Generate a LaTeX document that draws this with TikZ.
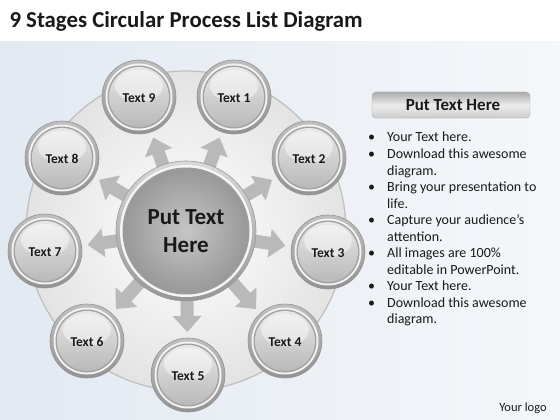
\documentclass[tikz,border=0pt]{standalone}
\usepackage{fontspec}
\setmainfont{Carlito}
\usetikzlibrary{arrows.meta,calc}
\definecolor{bgblue}{RGB}{226,233,241}
\definecolor{txt}{RGB}{25,25,25}
\tikzset{
  blockarrow/.style={line width=13pt, draw=gray!55, -{Triangle[width=28pt,length=16pt]}},
  stagetext/.style={font=\fontsize{13.5}{15}\selectfont\bfseries, text=txt},
}
\begin{document}
\begin{tikzpicture}[x=1pt,y=-1pt]
\useasboundingbox (0,0) rectangle (560,420);
\fill[white] (0,0) rectangle (560,420);
\shade[left color=bgblue, right color=bgblue!35] (0,42) rectangle (560,420);
\node[anchor=west, font=\fontsize{22.8}{26}\selectfont\bfseries, text=txt] (title) at (6,21) {9 Stages Circular Process List Diagram};
% outer disc
\coordinate (c) at (186,231);
\shade[inner color=white, outer color=gray!22] (c) circle (160);
\draw[gray!50, line width=1.2pt] (c) circle (160);
% stage positions
\foreach \n/\x/\y in {1/234/97, 2/309/158, 3/328/252, 4/285/341, 5/188/375, 6/87/341, 7/45/251, 8/62/158, 9/139/97}
  \coordinate (p\n) at (\x,\y);
% arrows
\foreach \n in {1,...,9}
  \draw[blockarrow] ($(c)!62pt!(p\n)$) -- ($(p\n)!43pt!(c)$);
% center circle
\shade[top color=gray!30, bottom color=gray!82] (c) circle (70);
\draw[gray!80, line width=0.6pt] (c) circle (70);
\fill[white!92!gray] (c) circle (66);
\fill[gray!78] (c) circle (63.5);
\shade[inner color=gray!45, outer color=gray!80] (c) circle (61.5);
\node[align=center, font=\fontsize{23}{28}\selectfont\bfseries, text=txt] (ctext) at (c) {Put Text\\Here};
% stage circles
\foreach \n in {1,...,9}{
  \shade[top color=gray!50, bottom color=gray!85] (p\n) circle (37);
  \draw[gray!85, line width=0.6pt] (p\n) circle (37);
  \fill[white!90!gray] (p\n) circle (33.5);
  \fill[gray!72] (p\n) circle (31.5);
  \shade[top color=gray!18, bottom color=gray!55] (p\n) circle (30);
  \fill[white, opacity=0.45] ($(p\n)+(0,-11)$) ellipse (24 and 16);
  \node[stagetext] (t\n) at ($(p\n)+(0,1)$) {Text \n};
}
% right panel
\shade[rounded corners=4pt, top color=gray!65, bottom color=gray!40, middle color=gray!15, draw=gray!70] (372,92) rectangle (530,118);
\node[font=\fontsize{17}{20}\selectfont\bfseries, text=txt] (head) at (453,105.5) {Put Text Here};
\node[anchor=north west, align=left, inner sep=0pt, text=txt, font=\fontsize{14}{16.55}\selectfont] (list) at (368,132) {%
\makebox[19pt][l]{•}Your Text here.\\
\makebox[19pt][l]{•}Download this awesome\\
\hspace*{19pt}diagram.\\
\makebox[19pt][l]{•}Bring your presentation to\\
\hspace*{19pt}life.\\
\makebox[19pt][l]{•}Capture your audience’s\\
\hspace*{19pt}attention.\\
\makebox[19pt][l]{•}All images are 100\%\\
\hspace*{19pt}editable in PowerPoint.\\
\makebox[19pt][l]{•}Your Text here.\\
\makebox[19pt][l]{•}Download this awesome\\
\hspace*{19pt}diagram.};
\node[font=\fontsize{12.5}{14}\selectfont, text=txt] (logo) at (523,408) {Your logo};
\end{tikzpicture}
\end{document}
